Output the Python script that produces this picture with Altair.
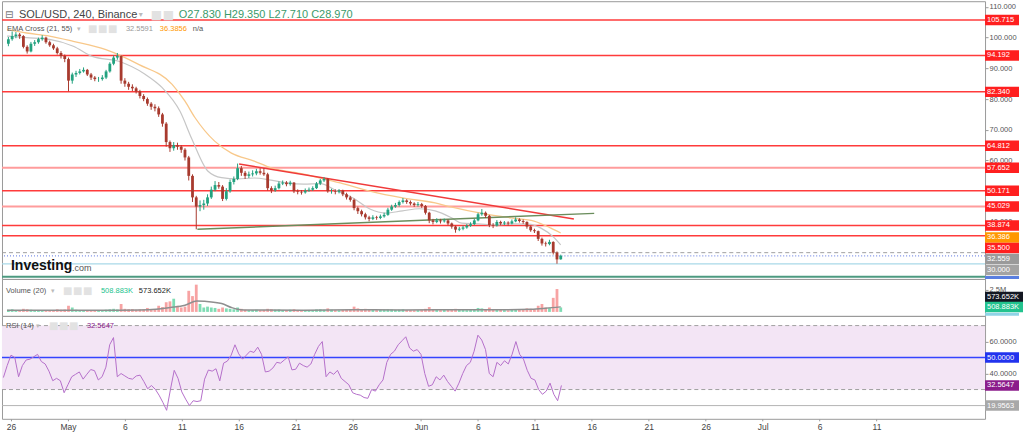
import altair as alt
import numpy as np
import pandas as pd

# ---------------- data (time in days from Apr 26 00:00, 8h candles) ----------------
T0 = -2 / 3
STEP = 1 / 3

OPEN = [98.0, 99.5, 100.5, 101.0, 100.5, 97.0, 95.5, 98.0, 98.5, 99.5,
        100.0, 98.5, 97.5, 96.5, 95.0, 94.0, 93.0, 86.0, 88.0, 88.5,
        89.0, 89.5, 88.0, 87.0, 86.5, 86.5, 87.0, 89.0, 91.5, 93.5,
        94.0, 86.0, 85.0, 84.0, 83.5, 82.5, 81.0, 80.0, 78.5, 77.5,
        77.0, 75.0, 72.0, 66.0, 64.0, 65.0, 64.5, 63.5, 61.0, 55.0,
        48.0, 45.0, 45.5, 46.0, 48.0, 50.5, 52.0, 51.5, 47.5, 50.0,
        53.0, 54.0, 57.5, 56.0, 55.0, 55.5, 55.8, 56.5, 56.0, 55.5,
        51.0, 50.3, 51.0, 52.5, 52.8, 52.3, 52.8, 50.0, 49.8, 49.6,
        50.2, 50.5, 51.0, 52.5, 53.5, 54.0, 50.0, 50.0, 49.8, 50.2,
        49.0, 48.0, 47.2, 44.5, 43.5, 42.5, 41.5, 41.0, 41.5, 41.3,
        41.8, 42.3, 44.0, 45.0, 45.5, 46.5, 47.0, 46.5, 46.0, 45.5,
        45.8, 45.2, 43.0, 40.5, 40.0, 40.5, 40.2, 40.5, 39.5, 38.5,
        37.5, 37.8, 38.2, 38.8, 39.3, 40.5, 42.5, 43.0, 42.0, 39.0,
        38.8, 40.0, 39.5, 39.8, 39.5, 40.2, 40.8, 40.3, 40.0, 38.5,
        37.3, 37.0, 34.5, 33.0, 32.8, 33.5, 30.0, 27.83]
HIGH = [100.2, 102.0, 101.8, 101.5, 100.8, 97.5, 98.6, 99.2, 100.0, 100.8,
        100.3, 99.0, 98.0, 97.0, 95.6, 94.5, 93.5, 88.6, 89.2, 89.8,
        90.3, 89.8, 88.5, 87.5, 87.2, 87.8, 89.5, 92.0, 94.2, 95.0,
        94.3, 86.8, 85.6, 84.8, 84.0, 83.0, 81.6, 80.5, 79.0, 78.3,
        77.6, 75.5, 72.5, 66.5, 66.0, 65.8, 65.0, 64.0, 61.5, 55.5,
        48.5, 47.0, 47.2, 49.0, 51.5, 53.3, 53.0, 52.0, 51.0, 53.8,
        54.8, 59.0, 58.2, 56.6, 56.4, 56.8, 57.3, 57.5, 57.5, 56.0,
        51.6, 51.8, 53.2, 53.5, 53.3, 53.4, 53.0, 50.6, 50.4, 50.9,
        51.2, 51.6, 53.0, 54.0, 54.6, 54.3, 50.8, 50.6, 50.7, 50.5,
        49.5, 48.5, 47.6, 45.0, 44.0, 43.0, 42.0, 42.2, 42.0, 42.4,
        43.0, 44.6, 45.6, 46.2, 47.0, 47.8, 47.4, 47.0, 46.4, 46.5,
        46.2, 45.5, 43.3, 41.0, 41.2, 41.0, 41.1, 40.8, 39.8, 38.8,
        38.4, 38.8, 39.3, 39.9, 41.0, 43.0, 44.2, 43.4, 42.3, 39.6,
        40.6, 40.4, 40.3, 40.2, 40.8, 41.5, 41.2, 40.8, 40.2, 38.8,
        37.8, 37.2, 34.9, 33.6, 34.2, 33.7, 30.4, 29.35]
LOW = [97.2, 99.0, 99.8, 99.6, 96.5, 94.8, 95.2, 97.3, 98.0, 99.0,
       98.0, 97.0, 96.0, 94.5, 93.2, 92.0, 82.5, 85.0, 87.2, 88.0,
       88.6, 87.5, 86.2, 85.8, 85.6, 86.0, 86.5, 88.6, 91.0, 92.8,
       85.0, 84.0, 83.0, 82.6, 81.8, 80.2, 79.3, 77.8, 76.5, 76.0,
       74.2, 71.0, 64.5, 62.8, 63.2, 63.5, 62.5, 60.0, 53.5, 46.5,
       37.6, 43.5, 44.0, 45.2, 47.5, 50.0, 50.8, 46.8, 47.0, 49.5,
       52.2, 53.6, 55.0, 54.0, 54.3, 54.8, 55.2, 55.4, 55.0, 50.2,
       49.4, 49.8, 50.6, 52.0, 51.6, 51.8, 49.4, 49.0, 48.9, 49.2,
       49.8, 50.1, 50.7, 52.0, 53.0, 49.5, 49.2, 49.0, 49.3, 48.4,
       47.3, 46.6, 43.8, 42.6, 41.8, 40.8, 40.2, 40.6, 40.7, 40.9,
       41.4, 42.0, 43.6, 44.6, 45.0, 46.0, 45.9, 45.4, 44.9, 45.0,
       44.6, 42.4, 39.6, 39.2, 39.6, 39.5, 39.8, 38.9, 37.8, 36.5,
       37.0, 37.3, 37.8, 38.4, 39.0, 40.2, 42.0, 41.3, 38.3, 38.0,
       38.5, 38.9, 39.0, 38.8, 39.2, 39.9, 39.8, 39.4, 37.8, 36.8,
       36.4, 33.8, 32.3, 32.0, 32.4, 29.4, 26.4, 27.71]
CLOSE = [99.5, 100.5, 101.0, 100.5, 97.0, 95.5, 98.0, 98.5, 99.5, 100.0,
         98.5, 97.5, 96.5, 95.0, 94.0, 93.0, 86.0, 88.0, 88.5, 89.0,
         89.5, 88.0, 87.0, 86.5, 86.5, 87.0, 89.0, 91.5, 93.5, 94.0,
         86.0, 85.0, 84.0, 83.5, 82.5, 81.0, 80.0, 78.5, 77.5, 77.0,
         75.0, 72.0, 66.0, 64.0, 65.0, 64.5, 63.5, 61.0, 55.0, 48.0,
         45.0, 45.5, 46.0, 48.0, 50.5, 52.0, 51.5, 47.5, 50.0, 53.0,
         54.0, 57.5, 56.0, 55.0, 55.5, 55.8, 56.5, 56.0, 55.5, 51.0,
         50.3, 51.0, 52.5, 52.8, 52.3, 52.8, 50.0, 49.8, 49.6, 50.2,
         50.5, 51.0, 52.5, 53.5, 54.0, 50.0, 50.0, 49.8, 50.2, 49.0,
         48.0, 47.2, 44.5, 43.5, 42.5, 41.5, 41.0, 41.5, 41.3, 41.8,
         42.3, 44.0, 45.0, 45.5, 46.5, 47.0, 46.5, 46.0, 45.5, 45.8,
         45.2, 43.0, 40.5, 40.0, 40.5, 40.2, 40.5, 39.5, 38.5, 37.5,
         37.8, 38.2, 38.8, 39.3, 40.5, 42.5, 43.0, 42.0, 39.0, 38.8,
         40.0, 39.5, 39.8, 39.5, 40.2, 40.8, 40.3, 40.0, 38.5, 37.3,
         37.0, 34.5, 33.0, 32.8, 33.5, 30.0, 27.8, 28.97]
VOLUME = [0.25, 0.3, 0.2, 0.22, 0.35, 0.3, 0.25, 0.2, 0.22, 0.18,
          0.2, 0.18, 0.22, 0.3, 0.25, 0.28, 0.7, 0.5, 0.25, 0.2,
          0.18, 0.22, 0.2, 0.18, 0.15, 0.2, 0.25, 0.3, 0.35, 0.28,
          0.9, 0.35, 0.3, 0.32, 0.25, 0.3, 0.28, 0.45, 0.3, 0.25,
          0.7, 0.55, 1.1, 1.2, 1.5, 0.7, 0.5, 0.6, 2.4, 1.8,
          3.1, 0.9, 0.5, 0.6, 0.5, 0.45, 0.35, 0.5, 0.4, 0.35,
          0.3, 0.5, 0.35, 0.25, 0.2, 0.22, 0.25, 0.2, 0.22, 0.35,
          0.3, 0.25, 0.28, 0.22, 0.2, 0.25, 0.3, 0.22, 0.18, 0.2,
          0.2, 0.22, 0.28, 0.3, 0.25, 0.4, 0.25, 0.2, 0.18, 0.22,
          0.25, 0.3, 0.6, 0.4, 0.3, 0.35, 0.3, 0.25, 0.2, 0.22,
          0.25, 0.3, 0.28, 0.22, 0.25, 0.3, 0.22, 0.2, 0.18, 0.2,
          0.22, 0.35, 0.55, 0.3, 0.25, 0.2, 0.22, 0.28, 0.3, 0.35,
          0.25, 0.22, 0.2, 0.25, 0.3, 0.45, 0.4, 0.3, 0.5, 0.3,
          0.25, 0.22, 0.2, 0.18, 0.22, 0.3, 0.25, 0.22, 0.4, 0.35,
          0.3, 0.7, 0.9, 0.5, 0.45, 1.6, 2.6, 0.509]
RSI = [37.5, 45, 51.5, 50, 38, 45, 48.5, 49, 50.5, 52,
       47.5, 46, 41.5, 35.5, 37, 35.5, 28, 33, 38, 39.5,
       41, 36.5, 39.6, 42.5, 41.8, 36, 38, 44, 58, 62.5,
       38, 40, 38.5, 37, 36.5, 38.5, 39, 35, 30.5, 32.5,
       30.2, 26.5, 22, 17, 30, 42, 37, 28.5, 24, 20,
       23, 22.5, 23, 36.5, 42.2, 41.5, 43, 35.4, 46.5, 47.8,
       51.5, 58, 52.3, 49, 51.5, 54, 53.2, 56.5, 52, 41,
       41.5, 43.5, 47, 46.5, 48.5, 50.5, 42.3, 42.7, 46.5, 45,
       44, 46, 52, 57, 60, 38, 41, 39.5, 42, 37,
       35, 33, 28, 27, 26.5, 25, 24.5, 30, 29, 33,
       36, 47, 52, 54, 58, 60.5, 63, 56, 54, 55,
       52, 40, 32, 33, 38, 36, 39, 35, 32, 29,
       34, 40, 45, 47, 54, 64, 61, 55, 40, 38,
       47, 45, 48, 46, 52, 60, 52, 49, 42, 37,
       36, 30, 27, 29, 34, 27, 23, 32.56]

EMA21_DAY = [-0.79, 0.96, 2.98, 5.09, 6.84, 9.12, 11.49, 12.98, 14.56, 15.61, 17.02,
             18.25, 19.65, 21.14, 22.63, 24.04, 25.53, 27.02, 28.42, 29.91, 31.40,
             32.81, 34.30, 35.79, 37.19, 38.68, 39.56, 41.05, 42.46, 44.21, 45.44,
             46.58, 47.72, 48.33]
EMA21_VAL = [100.5, 100.0, 99.4, 97.2, 93.8, 92.3, 88.0, 83.7, 76.0, 67.0, 56.6,
             54.4, 54.0, 54.3, 53.6, 52.7, 52.3, 52.5, 50.2, 47.8, 44.2,
             42.9, 43.6, 44.3, 43.6, 41.3, 39.6, 39.4, 39.0, 39.4, 39.3,
             38.0, 35.0, 32.56]
EMA55_DAY = [-0.79, 0.96, 2.98, 5.09, 7.98, 10.88, 13.86, 15.0, 15.88, 17.63,
             19.12, 21.14, 22.63, 25.53, 27.02, 28.77, 31.40, 34.30, 37.19,
             38.68, 41.58, 43.95, 45.96, 47.46, 48.33]
EMA55_VAL = [102.6, 101.5, 100.5, 98.8, 96.1, 91.3, 84.8, 79.3, 74.0, 66.3,
             62.4, 59.8, 57.6, 55.6, 54.3, 52.7, 50.0, 47.8, 46.2,
             44.8, 42.6, 41.3, 40.3, 38.0, 36.39]
VOLMA_DAY = [-0.79, 7.98, 11.75, 13.68, 15.0, 16.05, 16.75, 18.25, 19.12, 19.65,
             20.26, 25.53, 29.91, 34.30, 38.68, 43.07, 45.70, 47.02, 48.33]
VOLMA_VAL = [0.18, 0.2, 0.25, 0.5, 0.75, 1.25, 1.2, 0.95, 0.5, 0.3,
             0.22, 0.2, 0.25, 0.22, 0.25, 0.24, 0.3, 0.42, 0.574]

TREND_ID = ["resistance", "resistance", "support", "support"]
TREND_DAY = [19.8, 49.5, 16.1, 51.3]
TREND_PRICE = [58.85, 40.96, 37.6, 42.8]

THIN_LEVELS = [105.715, 94.192, 82.340, 64.812, 50.171, 38.874, 35.500]
THICK_LEVELS = [57.652, 45.029]

MAIN_TAG_TEXT = ["105.715", "94.192", "82.340", "64.812", "57.652", "50.171",
                 "45.029", "38.874", "36.386", "35.500", "32.559", "30.000"]
MAIN_TAG_POS = [105.715, 94.192, 82.340, 64.812, 57.652, 50.171,
                45.029, 38.874, 34.94, 31.53, 27.95, 24.37]
MAIN_TAG_COLOR = ["#ff1f1f"] * 8 + ["#ff9800", "#ff1f1f", "#9a9a9a", "#a3a3a3"]

VOL_TAG_TEXT = ["573.652K", "508.883K"]
VOL_TAG_POS = [1.70, 0.57]
VOL_TAG_COLOR = ["#131722", "#22c38e"]

RSI_TAG_TEXT = ["50.0000", "32.5647", "19.9563"]
RSI_TAG_POS = [50.0, 32.5647, 19.9563]
RSI_TAG_COLOR = ["#2233ee", "#8b1c8b", "#a8a8a8"]

XTICK_DAY = [0, 5, 10, 15, 20, 25, 30, 36, 41, 46, 51, 56, 61, 66, 71, 76]
XTICK_LABEL = ["26", "May", "6", "11", "16", "21", "26", "Jun", "6", "11",
               "16", "21", "26", "Jul", "6", "11"]

# ---------------- frames ----------------
days = [T0 + i * STEP for i in range(len(CLOSE))]
cdf = pd.DataFrame({"day": days, "open": OPEN, "high": HIGH, "low": LOW,
                    "close": CLOSE, "vol": VOLUME, "rsi": RSI})
cdf["dir"] = np.where(cdf["close"] >= cdf["open"], "up", "down")
cdf["base"] = 0.0
up_df = cdf[cdf["dir"] == "up"]
dn_df = cdf[cdf["dir"] == "down"]

ema21 = pd.DataFrame({"day": EMA21_DAY, "v": EMA21_VAL})
ema55 = pd.DataFrame({"day": EMA55_DAY, "v": EMA55_VAL})
volma = pd.DataFrame({"day": VOLMA_DAY, "v": VOLMA_VAL})
trend = pd.DataFrame({"id": TREND_ID, "day": TREND_DAY, "p": TREND_PRICE})
mtags = pd.DataFrame({"t": MAIN_TAG_TEXT, "p": MAIN_TAG_POS, "c": MAIN_TAG_COLOR})
vtags = pd.DataFrame({"t": VOL_TAG_TEXT, "p": VOL_TAG_POS, "c": VOL_TAG_COLOR})
rtags = pd.DataFrame({"t": RSI_TAG_TEXT, "p": RSI_TAG_POS, "c": RSI_TAG_COLOR})
ONE = pd.DataFrame({"k": [0]})

W = 984
FONT = "Liberation Sans"
XS = alt.Scale(domain=[-0.79, 85.53], nice=False, zero=False)
YMAIN = alt.Scale(domain=[21.45, 111.85], nice=False, zero=False)
YVOL = alt.Scale(domain=[-0.4545, 3.75], nice=False, zero=False)
YRSI = alt.Scale(domain=[11.69, 76.06], nice=False, zero=False)

UP, DOWN = "#22a27f", "#a83a2e"
VUP, VDOWN = "#7fdcb4", "#f7a3a3"

AX_COMMON = dict(orient="right", tickSize=3, tickColor="#9a9a9a", domain=False, grid=False,
                 title=None, labelFontSize=7.5, labelColor="#555555", labelPadding=1,
                 labelFont=FONT)
main_axis = alt.Axis(values=[40, 60, 70, 80, 90, 100, 110], format=".3f", **AX_COMMON)
vol_axis = alt.Axis(values=[2.5], labelExpr="'2.5M'", **AX_COMMON)
rsi_axis = alt.Axis(values=[40, 60], format=".4f", **AX_COMMON)

expr = "''"
for d, lab in zip(reversed(XTICK_DAY), reversed(XTICK_LABEL)):
    expr = f"datum.value == {d} ? '{lab}' : ({expr})"
x_axis = alt.Axis(values=XTICK_DAY, labelExpr=expr, orient="bottom", domain=False, grid=False,
                  tickSize=2, tickColor="#9a9a9a", labelPadding=2, labelFontSize=8.5,
                  labelColor="#444444", labelFont=FONT, title=None)


def X(field="day:Q", axis=None):
    return alt.X(field, scale=XS, axis=axis)


def txt(s, px, py, color, size=7.5, weight="normal", font=FONT, align="left"):
    return alt.Chart(ONE).mark_text(text=s, align=align, baseline="middle", color=color,
                                    fontSize=size, fontWeight=weight, font=font).encode(
        x=alt.value(px), y=alt.value(py))


def hline(values, yscale, axis, color, width=1.0, dash=None):
    kw = dict(stroke=color, color=color, strokeWidth=width)
    if dash is not None:
        kw["strokeDash"] = dash
    return alt.Chart(pd.DataFrame({"p": values})).mark_rule(**kw).encode(
        y=alt.Y("p:Q", scale=yscale, axis=axis))


def tag_layers(df, yscale, axis, center, size, tsize=7.5):
    box = alt.Chart(df).mark_tick(orient="horizontal", size=size, thickness=10.5, opacity=1).encode(
        x=alt.value(center), y=alt.Y("p:Q", scale=yscale, axis=axis),
        color=alt.Color("c:N", scale=None))
    lab = alt.Chart(df).mark_text(align="left", baseline="middle", color="white",
                                  fontSize=tsize, font=FONT).encode(
        x=alt.value(986), y=alt.Y("p:Q", scale=yscale, axis=axis), text="t:N")
    return [box, lab]


# ---------------- main price panel ----------------
e21 = alt.Chart(ema21).mark_line(color="#c6c6c6", strokeWidth=1.2, interpolate="monotone").encode(
    x=X(), y=alt.Y("v:Q", scale=YMAIN, axis=main_axis))
e55 = alt.Chart(ema55).mark_line(color="#f8c88a", strokeWidth=1.3, interpolate="monotone").encode(
    x=X(), y=alt.Y("v:Q", scale=YMAIN, axis=main_axis))
tr_res = alt.Chart(trend[trend["id"] == "resistance"]).mark_line(color="#f03a3a", strokeWidth=1.4).encode(
    x=X(), y=alt.Y("p:Q", scale=YMAIN, axis=main_axis))
tr_sup = alt.Chart(trend[trend["id"] == "support"]).mark_line(color="#6a8d5c", strokeWidth=1.4).encode(
    x=X(), y=alt.Y("p:Q", scale=YMAIN, axis=main_axis))


def candles(df, color):
    w = alt.Chart(df).mark_rule(color=color, strokeWidth=1).encode(
        x=X(), y=alt.Y("low:Q", scale=YMAIN, axis=main_axis), y2="high:Q")
    b = alt.Chart(df).mark_bar(color=color, width=2.8).encode(
        x=X(), y=alt.Y("open:Q", scale=YMAIN, axis=main_axis), y2="close:Q")
    return [w, b]


blue_tag = alt.Chart(pd.DataFrame({"p": [21.93]})).mark_tick(
    orient="horizontal", size=34, thickness=3, color="#5a7fe0", opacity=1).encode(
    x=alt.value(1001), y=alt.Y("p:Q", scale=YMAIN, axis=main_axis))

main_layers = [
    hline(THIN_LEVELS, YMAIN, main_axis, "#ff3b3b", 1.5),
    hline(THICK_LEVELS, YMAIN, main_axis, "#ff9c9c", 2),
    hline([30.0], YMAIN, main_axis, "#a0a0a0", 1, [4, 3]),
    hline([28.97], YMAIN, main_axis, "#7b8fe6", 1.2, [1, 2]),
    hline([26.33], YMAIN, main_axis, "#a9d9e8", 1.2),
    hline([22.2], YMAIN, main_axis, "#4c9a80", 2),
    e55, e21, tr_res, tr_sup,
]
main_layers += candles(up_df, UP) + candles(dn_df, DOWN)
main_layers += tag_layers(mtags, YMAIN, main_axis, 1001, 34)
main_layers += [blue_tag]
main_layers += [
    txt("⊟", 3, 14, "#777777", size=10, font="DejaVu Sans"),
    txt("SOL/USD, 240, Binance", 17, 14, "#444444", size=11),
    txt("▾", 137, 14, "#bbbbbb", size=8, font="DejaVu Sans"),
    txt("■", 149, 14, "#e2e2e2", size=12, font="DejaVu Sans"),
    txt("■", 161, 14, "#e2e2e2", size=12, font="DejaVu Sans"),
    txt("O27.830 H29.350 L27.710 C28.970", 177, 14, "#3a9a6a", size=11),
    txt("EMA Cross (21, 55)", 5, 28, "#555555", size=7.5),
    txt("▾", 75, 28, "#bbbbbb", size=7, font="DejaVu Sans"),
    txt("■", 86, 28, "#e2e2e2", size=10, font="DejaVu Sans"),
    txt("■", 96, 28, "#e2e2e2", size=10, font="DejaVu Sans"),
    txt("■", 106, 28, "#e2e2e2", size=10, font="DejaVu Sans"),
    txt("32.5591", 124, 28, "#999999", size=7.5),
    txt("36.3856", 158, 28, "#ff9800", size=7.5),
    txt("n/a", 191, 28, "#555555", size=7.5),
    txt("Investing", 9, 265, "#111111", size=14, weight="bold"),
    txt(".com", 70, 267, "#555555", size=9),
]
main = alt.layer(*main_layers).resolve_scale(color="independent").properties(width=W, height=278)

# ---------------- volume panel ----------------
vb_up = alt.Chart(up_df).mark_bar(color=VUP, width=2.8).encode(
    x=X(), y=alt.Y("vol:Q", scale=YVOL, axis=vol_axis), y2="base:Q")
vb_dn = alt.Chart(dn_df).mark_bar(color=VDOWN, width=2.8).encode(
    x=X(), y=alt.Y("vol:Q", scale=YVOL, axis=vol_axis), y2="base:Q")
vma = alt.Chart(volma).mark_line(color="#8f8f8f", strokeWidth=1.5, interpolate="monotone").encode(
    x=X(), y=alt.Y("v:Q", scale=YVOL, axis=vol_axis))
lb_tag = alt.Chart(pd.DataFrame({"p": [-0.28]})).mark_tick(
    orient="horizontal", size=34, thickness=3, color="#8fd3e6", opacity=1).encode(
    x=alt.value(1001), y=alt.Y("p:Q", scale=YVOL, axis=vol_axis))
vol_layers = [vb_up, vb_dn, vma] + tag_layers(vtags, YVOL, vol_axis, 1003, 38) + [lb_tag] + [
    txt("Volume (20)", 4, 12, "#555555", size=7.5),
    txt("▾", 49, 12, "#bbbbbb", size=7, font="DejaVu Sans"),
    txt("■", 61, 12, "#e2e2e2", size=10, font="DejaVu Sans"),
    txt("■", 71, 12, "#e2e2e2", size=10, font="DejaVu Sans"),
    txt("■", 81, 12, "#e2e2e2", size=10, font="DejaVu Sans"),
    txt("508.883K", 99, 12, "#22c38e", size=7.5),
    txt("573.652K", 137, 12, "#222222", size=7.5),
]
vol = alt.layer(*vol_layers).resolve_scale(color="independent").properties(width=W, height=37)

# ---------------- RSI panel ----------------
band = alt.Chart(pd.DataFrame({"hi": [70.0], "lo": [30.0]})).mark_rect(color="#f3e5f5").encode(
    x=alt.value(0), x2=alt.value("width"), y=alt.Y("hi:Q", scale=YRSI, axis=rsi_axis), y2="lo:Q")
rline = alt.Chart(cdf).mark_line(color="#b56fca", strokeWidth=1).encode(
    x=X(axis=x_axis), y=alt.Y("rsi:Q", scale=YRSI, axis=rsi_axis))
rsi_layers = [
    band,
    hline([70.0, 30.0], YRSI, rsi_axis, "#a0a0a0", 1, [4, 3]),
    hline([50.0], YRSI, rsi_axis, "#3344ff", 1.5),
    hline([19.9563], YRSI, rsi_axis, "#b5b5b5", 1),
    rline,
] + tag_layers(rtags, YRSI, rsi_axis, 1001, 34) + [
    txt("RSI (14)", 4, 10, "#555555", size=7.5),
    txt("▾", 34, 10, "#bbbbbb", size=7, font="DejaVu Sans"),
    txt("■", 47, 10, "#e2e2e2", size=10, font="DejaVu Sans"),
    txt("■", 57, 10, "#e2e2e2", size=10, font="DejaVu Sans"),
    txt("■", 67, 10, "#e2e2e2", size=10, font="DejaVu Sans"),
    txt("32.5647", 85, 10, "#8b1c8b", size=7.5),
]
rsi = alt.layer(*rsi_layers).resolve_scale(color="independent").properties(width=W, height=103)

chart = alt.vconcat(main, vol, rsi, spacing=0, bounds="flush").properties(
    padding=0, background="white"
).configure(font=FONT).configure_view(stroke="#9a9a9a", strokeWidth=1)

chart.save("out.html", embed_options={"renderer": "svg", "actions": False})
